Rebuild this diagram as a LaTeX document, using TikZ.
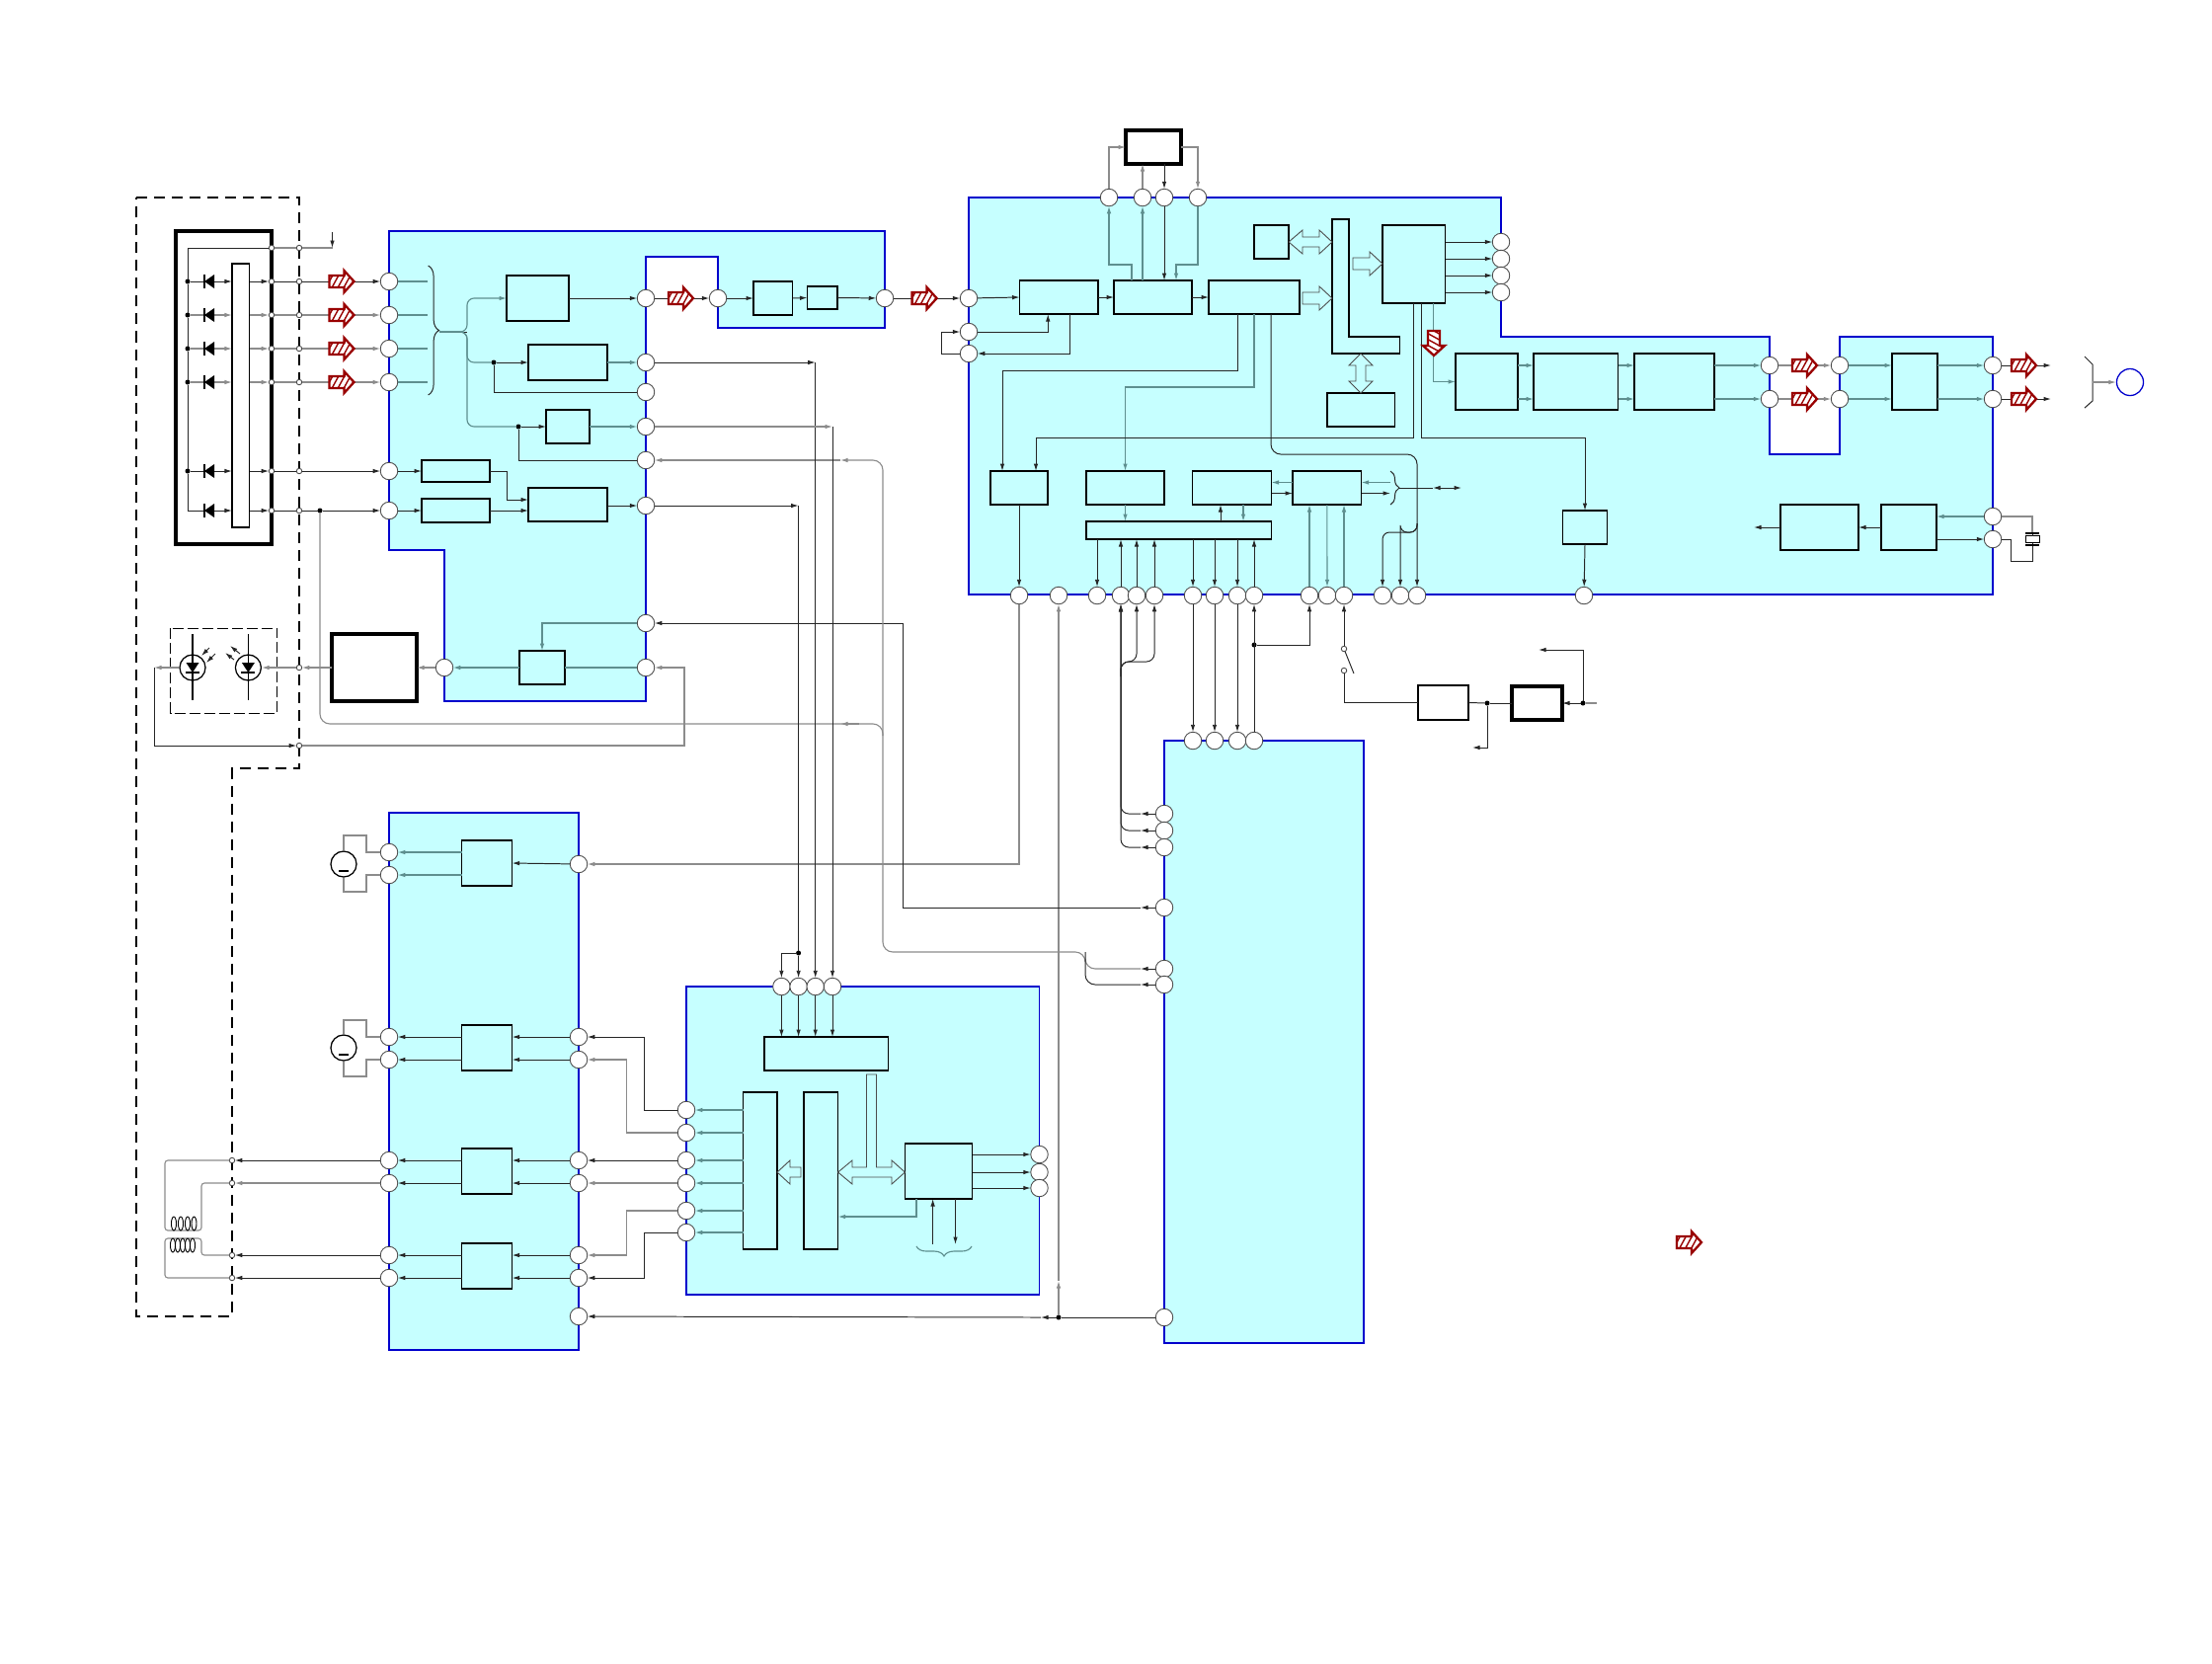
\documentclass[tikz,border=0pt]{standalone}
\usepackage{xcolor}
\usetikzlibrary{arrows.meta,decorations.pathreplacing}
\definecolor{panelcyan}{HTML}{C6FFFF}
\definecolor{panelblue}{HTML}{0000CC}
\definecolor{hatchred}{HTML}{990000}
\definecolor{wireteal}{HTML}{5E8F8F}
\tikzset{
  >={Latex[length=0.075cm,width=0.045cm]},
  panel/.style={draw=panelblue,fill=panelcyan,line width=0.55pt},
  block/.style={draw,fill=panelcyan,line width=0.36pt,inner sep=0pt,outer sep=0pt},
  whitebox/.style={draw,fill=white,line width=0.95pt,inner sep=0pt,outer sep=0pt},
  port/.style={circle,draw=black!70,fill=white,line width=0.25pt,minimum size=0.175cm,inner sep=0pt,outer sep=0pt},
  opendot/.style={circle,draw=black!70,fill=white,line width=0.25pt,minimum size=0.055cm,inner sep=0pt,outer sep=0pt},
  soliddot/.style={circle,fill=black,minimum size=0.05cm,inner sep=0pt,outer sep=0pt},
  wire/.style={draw=black!85,line width=0.28pt},
  wiregray/.style={draw=black!45,line width=0.32pt},
  wirepanel/.style={draw=wireteal,line width=0.32pt},
  busarrow/.style={draw=black!70,fill=panelcyan,line width=0.25pt},
  hatcharrow/.pic={
    \begin{scope}
    \clip (0,-6) -- (15,-6) -- (15,-11) -- (25,0) -- (15,11) -- (15,6) -- (0,6) -- cycle;
    \fill[white] (-1,-12) rectangle (26,12);
    \foreach \k in {-6,0,...,30} \draw[hatchred,line width=0.4pt] (\k-6,11) -- (\k+6,-11);
    \end{scope}
    \draw[hatchred,line width=0.65pt] (0,-6) -- (15,-6) -- (15,-11) -- (25,0) -- (15,11) -- (15,6) -- (0,6) -- cycle;
  }
}
\begin{document}
\begin{tikzpicture}[x=0.01cm,y=-0.01cm]
\useasboundingbox (0,0) rectangle (2240,1684);
% Panels
\draw[panel] (394,234) -- (896,234) -- (896,332) -- (727,332) -- (727,260) -- (654,260) -- (654,710) -- (450,710) -- (450,557) -- (394,557) -- cycle;
\draw[panel] (981,200) -- (1520,200) -- (1520,341) -- (1792,341) -- (1792,460) -- (1863,460) -- (1863,341) -- (2018,341) -- (2018,602) -- (981,602) -- cycle;
\draw[panel,line width=0.4pt] (1179,750) rectangle (1381,1360);
\draw[panel,line width=0.35pt] (394,823) rectangle (586,1367);
\draw[panel,line width=0.45pt] (695,999) rectangle (1052.5,1311);
% Outer dashed frame
\draw[line width=0.5pt,dash pattern=on 0.11cm off 0.07cm] (138,200) -- (303,200) -- (303,778) -- (235,778) -- (235,1333) -- (138,1333) -- cycle;
\draw[line width=0.26pt,dash pattern=on 0.11cm off 0.04cm] (172.5,636) rectangle (280.7,722);
\draw[line width=0.95pt] (178,234) rectangle (275,551);
% Blocks
\foreach \n/\xa/\ya/\xb/\yb in {
    b1/513/279/576/325, b2/535/349/615/385, b3/553/415/597/449,
    b4/427/466/496/488, b5/427/505/496/529, b6/535/494/615/528,
    b7/526/659/572/693, g1/763/285/802.5/319, g2/817.5/290/848/313,
    c1/1032.5/284/1112/318, c2/1128/284/1207/318, c3/1224/284/1316/318,
    c4/1270/228/1305/262, c5/1400/228/1463.5/307, c6/1344/398/1412.5/432,
    c7/1474/358/1537/415, c8/1553/358/1638.6/415, c9/1655/358/1736/415,
    c10/1916/358/1962/415, c11/1803/511/1882/557, c12/1905/511/1961/557,
    d1/1003/477/1061/511, d2/1100/477/1179/511, d3/1207.5/477/1287.5/511,
    d4/1309/477/1378.6/511, d5/1582.5/517/1627.5/551, d6/1100/528/1287.5/546,
    m1/467.5/851/518.6/897, m2/467.5/1038/518.6/1084,
    m3/467.5/1163/518.6/1209, m4/467.5/1259/518.6/1305,
    f1/774/1050/899.6/1084, f2/752.5/1106/787/1265,
    f3/814/1106/848.6/1265, f4/916.4/1158/984.6/1214} {
    \node[block,minimum width={(\xb-\xa)*0.01cm},minimum height={(\yb-\ya)*0.01cm}] (\n) at ({(\xa+\xb)/2},{(\ya+\yb)/2}) {};
}
\foreach \n/\xa/\ya/\xb/\yb in {
    b8/336/642/422/710, tbox/1140/132/1196/166, e2/1531/695/1582/729} {
    \node[whitebox,minimum width={(\xb-\xa)*0.01cm},minimum height={(\yb-\ya)*0.01cm}] (\n) at ({(\xa+\xb)/2},{(\ya+\yb)/2}) {};
}
\node[whitebox,line width=0.42pt,minimum width=0.51cm,minimum height=0.35cm] (e1) at (1461.5,711.5) {};
\node[whitebox,line width=0.36pt,minimum width=0.175cm,minimum height=2.67cm] (strip) at (243.75,400.5) {};
\node[whitebox,line width=0.3pt,minimum width=0.14cm,minimum height=0.07cm] (xtal) at (2058,546) {};
% L shaped bus
\draw[block] (1349,222) -- (1366,222) -- (1366,341) -- (1417.5,341) -- (1417.5,358) -- (1349,358) -- cycle;
% Ports
\foreach \n/\x/\y in {
    pa1/394/285, pa2/394/319, pa3/394/353, pa4/394/387, pa5/394/477, pa6/394/517,
    ar1/654/302, ar2/654/367, ar3/654/397, ar4/654/432, ar5/654/466, ar6/654/512, ar7/654/631, ar8/654/676,
    an/727/302, ao/896/302, ab/450/676,
    bl1/981/302, bl2/981/336, bl3/981/358,
    bt1/1123/200, bt2/1157/200, bt3/1179/200, bt4/1213/200,
    br1/1520/245, br2/1520/262, br3/1520/279, br4/1520/296,
    bs1/1792/370, bs2/1792/404, bn1/1863/370, bn2/1863/404,
    bo1/2018/370, bo2/2018/404, bx1/2018/523, bx2/2018/546,
    bb1/1032/603, bb2/1072/603, bb3/1111/603, bb4/1135/603, bb5/1151/603, bb6/1169/603,
    bb7/1208/603, bb8/1230/603, bb9/1253/603, bb10/1270/603, bb11/1326/603, bb12/1344/603,
    bb13/1361/603, bb14/1400/603, bb15/1418/603, bb16/1435/603, bb17/1604/603,
    dt1/1208/750, dt2/1230/750, dt3/1253/750, dt4/1270/750,
    dl1/1179/824, dl2/1179/841, dl3/1179/858, dl4/1179/919, dl5/1179/981, dl6/1179/997, dl7/1179/1334,
    el1/394/863, el2/394/886, el3/394/1050, el4/394/1073, el5/394/1175, el6/394/1198, el7/394/1271, el8/394/1294,
    er1/586/875, er3/586/1050, er4/586/1073, er5/586/1175, er6/586/1198, er7/586/1271, er8/586/1294, er9/586/1333,
    ft1/791.4/999, ft2/808.6/999, ft3/825.7/999, ft4/843/999,
    fl1/695/1124, fl2/695/1147, fl3/695/1175, fl4/695/1198, fl5/695/1226, fl6/695/1248,
    fr1/1052.5/1169, fr2/1052.5/1187, fr3/1052.5/1203} {
    \node[port] (\n) at (\x,\y) {};
}
% Small dots
\foreach \n/\x/\y in {
    sa0/275/251, sa1/275/285, sa2/275/319, sa3/275/353, sa4/275/387, sa5/275/477, sa6/275/517,
    sb0/303/251, sb1/303/285, sb2/303/319, sb3/303/353, sb4/303/387, sb5/303/477, sb6/303/517,
    sb7/303/755, sb8/303/676, cd1/235/1175, cd2/235/1198, cd3/235/1271, cd4/235/1294,
    sw1/1361/657, sw2/1361/679} {
    \node[opendot] (\n) at (\x,\y) {};
}
\foreach \n/\x/\y in {
    rail1/190/285, rail2/190/319, rail3/190/353, rail4/190/387, rail5/190/477,
    da/500/367, db/525/432, dp/324/517, fd/808.6/965, dj/1072/1334, jd/1270/653,
    je/1506/712, jf/1603/712} {
    \node[soliddot] (\n) at (\x,\y) {};
}
\coordinate (rail6) at (190,517);
% Optical pair and motors
\node[circle,draw,line width=0.36pt,minimum size=0.26cm,inner sep=0pt] (led1) at (195,676) {};
\node[circle,draw,line width=0.36pt,minimum size=0.26cm,inner sep=0pt] (led2) at (251.4,676) {};
\node[circle,draw,line width=0.36pt,minimum size=0.26cm,inner sep=0pt] (mot1) at (348,875) {};
\node[circle,draw,line width=0.36pt,minimum size=0.26cm,inner sep=0pt] (mot2) at (348,1061) {};
\node[circle,draw=panelblue,line width=0.36pt,minimum size=0.27cm,inner sep=0pt] (jack) at (2157,387) {};
% Free ends
\coordinate (tp) at (336.5,251);
\coordinate (tpa) at (336.5,235);
\coordinate (bl) at (433,336);
\coordinate (bc) at (445,336);
\coordinate (br) at (473,336);
\coordinate (lc) at (156,676);
\coordinate (lk) at (693,676);
\coordinate (ta) at (851,466);
\coordinate (tb) at (894,964);
\coordinate (tc) at (1099,964);
\coordinate (tj) at (894,733);
\coordinate (tm) at (851,733);
\coordinate (tn) at (870,733);
\coordinate (tk) at (914,631);
\coordinate (dmid) at (1155,840);
\coordinate (ja) at (1072,1297);
\coordinate (jb) at (1054,1334);
\coordinate (kb) at (1135,685);
\coordinate (kc) at (1143,670);
\coordinate (dbr) at (1408,494);
\coordinate (dbt) at (1417,494);
\coordinate (dbm) at (1451,494);
\coordinate (dbe) at (1480,494);
\coordinate (bj) at (1435,530);
\coordinate (bk) at (1418,539);
\coordinate (bm) at (1400,539);
\coordinate (brk) at (2119,387);
\coordinate (ou1) at (2077,370);
\coordinate (ou2) at (2077,404);
\coordinate (cl) at (1776,534);
\coordinate (xa) at (2058,540);
\coordinate (xb) at (2058,552);
\coordinate (xc) at (2036,568);
\coordinate (jl) at (1491,757);
\coordinate (jg) at (1617,712);
\coordinate (jh) at (1558,658);
\coordinate (lv) at (1371,682);
\coordinate (ca1) at (167,1246);
\coordinate (ca2) at (204,1246);
\coordinate (ca3) at (204,1254);
\coordinate (ca4) at (167,1254);
\coordinate (fb0) at (928,1214);
\coordinate (fb3) at (928,1232);
\coordinate (fb1) at (944.6,1260);
\coordinate (fb2) at (967.5,1260);
\coordinate (mk1) at (371,846);
\coordinate (mk2) at (371,903);
\coordinate (mk3) at (371,1033);
\coordinate (mk4) at (371,1090);
% Sensor rows
\draw[wire] (sa0) -| (rail1);
\draw[wire] (rail1) -- (rail2);
\draw[wire] (rail2) -- (rail3);
\draw[wire] (rail3) -- (rail4);
\draw[wire] (rail4) -- (rail5);
\draw[wire] (rail5) -- (rail6);
\draw[wiregray] (sa0) -- (sb0);
\draw[wiregray] (sb0) -- (tp);
\draw[wire,->] (tpa) -- (tp);
\foreach \i in {1,5,6} {
    \draw[wire,->] (rail\i) -- (strip.west |- rail\i);
    \draw[wire,->] (strip.east |- rail\i) -- (sa\i);
    \draw[wire] (sa\i) -- (sb\i);
}
\foreach \i in {2,3,4} {
    \draw[wiregray,->] (rail\i) -- (strip.west |- rail\i);
    \draw[wiregray,->] (strip.east |- rail\i) -- (sa\i);
    \draw[wiregray] (sa\i) -- (sb\i);
    \draw[wiregray,->] (sb\i) -- (pa\i);
}
\draw[wire,->] (sb1) -- (pa1);
\draw[wire,->] (sb5) -- (pa5);
\draw[wire] (sb6) -- (dp);
\draw[wire,->] (dp) -- (pa6);
\foreach \y in {285,319,353,387,477,517} {
    \fill (207,\y) -- (217,\y-7) -- (217,\y+7) -- cycle;
    \draw[line width=0.36pt] (207,\y-7) -- (207,\y+7);
}
% First panel
\foreach \p in {pa1,pa2,pa3,pa4} \draw[wirepanel] (\p) -- (\p -| bl);
\draw[wire,decorate,decoration={brace,amplitude=0.11cm}] (433.6,269) -- (433.6,400);
\draw[wire] (bc) -- (br);
\draw[wirepanel,->,rounded corners=0.07cm] (bc) -- (br) |- (b1.west);
\draw[wirepanel,rounded corners=0.07cm] (bc) -- (br) |- (da);
\draw[wirepanel,rounded corners=0.07cm] (bc) -- (br) |- (db);
\draw[wire,->] (da) -- (da -| b2.west);
\draw[wire,->] (db) -- (b3.west);
\draw[wire] (da) |- (ar3);
\draw[wire] (db) |- (ar5);
\draw[wire,->] (b1.east |- ar1) -- (ar1);
\draw[wirepanel,->] (b2.east |- ar2) -- (ar2);
\draw[wirepanel,->] (b3.east) -- (ar4);
\draw[wire,->] (pa5) -- (b4.west);
\draw[wire,->] (pa6) -- (b5.west);
\draw[wire,->] (b4.east) -- ++(17,0) |- ([yshift=0.05cm]b6.west);
\draw[wire,->] (b5.east) -- (b5.east -| b6.west);
\draw[wire,->] (b6.east |- ar6) -- (ar6);
\draw[wirepanel,->] (ar7) -| (b7.north);
\draw[wirepanel] (ar8) -- (b7.east);
\draw[wirepanel,->] (b7.west) -- (ab);
\draw[wiregray,->] (ab) -- (b8.east);
\draw[wiregray,->] (b8.west) -- (sb8);
\draw[wiregray,->] (sb8) -- (led2);
\draw[wiregray,->] (led1) -- (lc);
\draw[wire,->] (lc) |- (sb7);
\draw[wiregray,->] (sb7) -| (lk) -- (ar8);
% Notch and link to second panel
\draw[wire,->] (ar1) -- (an);
\draw[wire,->] (an) -- (g1.west);
\draw[wire,->] (g1.east) -- (g2.west);
\draw[wire,->] (g2.east) -- (ao);
\draw[wire,->] (ao) -- (bl1);
\draw[wire,->] (bl1) -- (c1.west);
\draw[wire,->] (c1.east) -- (c2.west);
\draw[wire,->] (c2.east) -- (c3.west);
\draw[wire,->] (bl3) -- ++(-28,0) |- (bl2);
\draw[wire,->] (bl2) -| ([xshift=-0.11cm]c1.south);
\draw[wire,->] ([xshift=0.115cm]c1.south) |- (bl3);
% Memory on top
\draw[wirepanel,->] ([xshift=-0.215cm]c2.north) -- ++(0,-16) -| (bt1);
\draw[wirepanel,->] (bt2 |- c2.north) -- (bt2);
\draw[wire,->] (bt3) -- (bt3 |- c2.north);
\draw[wirepanel,->] (bt4) -- ++(0,68) -| ([xshift=0.235cm]c2.north);
\draw[wiregray,->] (bt1) |- (tbox.west);
\draw[wiregray,->] (bt2) -- (bt2 |- tbox.south);
\draw[wire,->] (bt3 |- tbox.south) -- (bt3);
\draw[wiregray,->] (tbox.east) -| (bt4);
% Hollow bus arrows
\draw[busarrow] (1305,245) -- (1319,233) -- (1319,240) -- (1336,240) -- (1336,233) -- (1349,245) -- (1336,257) -- (1336,250) -- (1319,250) -- (1319,257) -- cycle;
\draw[busarrow] (1319,296) -- (1336,296) -- (1336,290) -- (1349,302) -- (1336,314) -- (1336,308) -- (1319,308) -- cycle;
\draw[busarrow] (1370,261) -- (1387,261) -- (1387,255) -- (1400,267) -- (1387,279) -- (1387,273) -- (1370,273) -- cycle;
\draw[busarrow] (1378,358) -- (1366,370) -- (1373,370) -- (1373,386) -- (1366,386) -- (1378,398) -- (1390,386) -- (1383,386) -- (1383,370) -- (1390,370) -- cycle;
\draw[busarrow] (787,1187) -- (800,1175) -- (800,1182) -- (811,1182) -- (811,1192) -- (800,1192) -- (800,1199) -- cycle;
\draw[busarrow] (848.6,1187) -- (863,1175) -- (863,1182) -- (877.5,1182) -- (877.5,1088) -- (887.5,1088) -- (887.5,1182) -- (903,1182) -- (903,1175) -- (916.4,1187) -- (903,1199) -- (903,1192) -- (863,1192) -- (863,1199) -- cycle;
% Second panel
\foreach \p in {br1,br2,br3,br4} \draw[wire,->] (c5.east |- \p) -- (\p);
\draw[wire,->] ([xshift=-0.165cm]c3.south) -- ++(0,57) -| ([xshift=-0.17cm]d1.north);
\draw[wirepanel,->] (c3.south) -- ++(0,74) -| (d2.north);
\draw[wire,->,rounded corners=0.1cm] ([xshift=0.17cm]c3.south) -- ++(0,142) -| (bb16);
\draw[wire,->] (c5.south) -- ++(0,136) -| ([xshift=0.17cm]d1.north);
\draw[wire,->] ([xshift=0.08cm]c5.south) -- ++(0,136) -| (d5.north);
\draw[wirepanel,->] ([xshift=0.2cm]c5.south) |- (c7.west);
\draw[wire,rounded corners=0.07cm,->] (bj) |- (bk) -| (bb15);
\draw[wire,rounded corners=0.07cm,->] (bj) |- (bm) -- (bb14);
\foreach \p in {bs1,bs2} {
    \draw[wirepanel,->] (c7.east |- \p) -- (c8.west |- \p);
    \draw[wirepanel,->] (c8.east |- \p) -- (c9.west |- \p);
    \draw[wirepanel,->] (c9.east |- \p) -- (\p);
}
\draw[wiregray,->] (bs1) -- (bn1);
\draw[wiregray,->] (bs2) -- (bn2);
\draw[wirepanel,->] (bn1) -- (c10.west |- bn1);
\draw[wirepanel,->] (bn2) -- (c10.west |- bn2);
\draw[wirepanel,->] (c10.east |- bo1) -- (bo1);
\draw[wirepanel,->] (c10.east |- bo2) -- (bo2);
\draw[wire,->] (bo1) -- (ou1);
\draw[wire,->] (bo2) -- (ou2);
\draw[wire] (2111,361) -- (2119,369) -- (2119,406) -- (2111,413);
\draw[wiregray,->] (brk) -- (jack);
\draw[wirepanel,->] (bx1) -- (c12.east |- bx1);
\draw[wire,->] (c12.east |- bx2) -- (bx2);
\draw[wire,->] (c12.west) -- (c11.east);
\draw[wire,->] (c11.west) -- (cl);
\draw[wiregray] (bx1) -| (xa);
\draw[wire] (xa) -- (xtal);
\draw[wire] (xb) -- (xtal);
\draw[wire] (xb) |- (xc) |- (bx2);
\draw[line width=0.3pt] (2051,540) -- (2065,540);
\draw[line width=0.3pt] (2051,552) -- (2065,552);
% Lower rows of the second panel
\draw[wire,->] (d1.south) -- (bb1);
\draw[wirepanel,->] (d2.south) -- (d2.south |- d6.north);
\draw[wire,<-] ([xshift=-0.115cm]d3.south) -- ++(0,17);
\draw[wirepanel,->] ([xshift=0.115cm]d3.south) -- ++(0,17);
\foreach \p in {bb3,bb7,bb8,bb9} \draw[wire,->] (\p |- d6.south) -- (\p);
\foreach \p in {bb4,bb5,bb6,bb10} \draw[wire,->] (\p) -- (\p |- d6.south);
\draw[wirepanel,->] ([yshift=0.055cm]d4.west) -- ([yshift=0.055cm]d3.east);
\draw[wire,->] ([yshift=-0.055cm]d3.east) -- ([yshift=-0.055cm]d4.west);
\draw[wirepanel,->] ([yshift=0.055cm]dbr) -- ([yshift=0.055cm]d4.east);
\draw[wire,->] ([yshift=-0.055cm]d4.east) -- ([yshift=-0.055cm]dbr);
\draw[wire,decorate,decoration={brace,amplitude=0.09cm}] (1408,477) -- (1408,511);
\draw[wire] (dbt) -- (dbm);
\draw[wire,<->] (dbm) -- (dbe);
\draw[wirepanel,->] (bb11) -- (bb11 |- d4.south);
\draw[wirepanel,->] (d4.south) -- (bb12);
\draw[wirepanel,->] (bb13) -- (bb13 |- d4.south);
\draw[wire,->] (d5.south) -- (bb17);
% Links between the panels
\draw[wiregray,->] (bb1) |- (er1);
\draw[wiregray,->] (dj) -- (ja);
\draw[wiregray,->] (ja) -- (bb2);
\draw[wire] (dl7) -- (dj);
\draw[wire,->] (dj) -- (jb);
\draw[wire,->] (jb) -- (er9);
\foreach \p in {dl1,dl2,dl3,dl4,dl5,dl6} \draw[wire,->] (\p) -- (\p -| dmid);
\foreach \p in {dl1,dl2,dl3} \draw[wire,->,rounded corners=0.08cm] (\p -| dmid) -| (bb4);
\draw[wire,->,rounded corners=0.08cm] (kb) -- (kb |- kc) -| (bb5);
\draw[wire,->,rounded corners=0.08cm] (kb) -- (kb |- kc) -| (bb6);
\draw[wire,->] (dt4) -- (bb10);
\draw[wire,->] (bb7) -- (dt1);
\draw[wire,->] (bb8) -- (dt2);
\draw[wire,->] (bb9) -- (dt3);
\draw[wire,->] (jd) -| (bb11);
\draw[wire,->] (sw1) -- (bb13);
\draw[wire] (sw1) -- (lv);
\draw[wire] (sw2) |- (e1.west);
\draw[wire] (e1.east) -- (je);
\draw[wire] (je) -- (e2.west);
\draw[wire,->] (je) |- (jl);
\draw[wire,->] (jf) -- (e2.east);
\draw[wiregray] (jg) -- (jf);
\draw[wire,->] (jf) |- (jh);
\draw[wire,->] (dl4 -| dmid) -| (tk) -- (ar7);
\draw[wiregray,<-,rounded corners=0.1cm] (ta) -| (tb) -- (tc) |- (dl5 -| dmid);
\draw[wire,rounded corners=0.1cm] (tc) |- (dl6 -| dmid);
\draw[wiregray,->] (ta) -- (ar5);
\draw[wiregray,rounded corners=0.1cm] (dp) |- (tj) -- ++(0,12);
\draw[wiregray,->] (tn) -- (tm);
\draw[wire,->] (ar2) -- (ar2 -| ft3);
\draw[wire,->] (ar2 -| ft3) -- (ft3);
\draw[wiregray,->] (ar4) -- (ar4 -| ft4);
\draw[wire,->] (ar4 -| ft4) -- (ft4);
\draw[wire,->] (ar6) -- (ar6 -| fd);
\draw[wire] (ar6 -| fd) -- (fd);
\draw[wire,->] (fd) -- (ft2);
\draw[wire,->] (fd) -| (ft1);
% Drivers
\draw[wire,->] (er1) -- (m1.east);
\foreach \m/\i/\j in {m2/3/4,m3/5/6,m4/7/8} {
    \draw[wire,->] (er\i) -- (\m.east |- er\i);
    \draw[wire,->] (er\j) -- (\m.east |- er\j);
    \draw[wire,->] (\m.west |- er\i) -- (el\i);
    \draw[wire,->] (\m.west |- er\j) -- (el\j);
}
\draw[wirepanel,->] (m1.west |- el1) -- (el1);
\draw[wirepanel,->] (m1.west |- el2) -- (el2);
\foreach \n/\a/\b/\c in {mot1/mk1/el1/north, mot1/mk2/el2/south, mot2/mk3/el3/north, mot2/mk4/el4/south} {
    \draw[wiregray] (\n.\c) |- (\a) |- (\b);
}
\draw[line width=0.36pt] ([shift={(-5,7)}]mot1.center) -- ++(10,0);
\draw[line width=0.36pt] ([shift={(-5,7)}]mot2.center) -- ++(10,0);
\draw[wire,->] (el5) -- (cd1);
\draw[wiregray,->] (el6) -- (cd2);
\draw[wire,->] (el7) -- (cd3);
\draw[wire,->] (el8) -- (cd4);
\draw[wiregray,rounded corners=0.03cm] (cd1) -| (ca1) -- (ca2) |- (cd2);
\draw[wiregray,rounded corners=0.03cm] (cd3) -| (ca3) -- (ca4) |- (cd4);
\foreach \x in {176,183,190,196.5} \draw[line width=0.26pt] (\x,1239) ellipse [x radius=2.5,y radius=7];
\foreach \x in {175,180,185,190,195} \draw[line width=0.26pt] (\x,1261) ellipse [x radius=2.5,y radius=7];
% Optical pair
\draw[line width=0.32pt] (195,642) -- (195,709);
\draw[line width=0.32pt] (251.4,642) -- (251.4,709);
\foreach \x in {195,251.4} {
    \fill (\x-6.5,671) -- (\x+6.5,671) -- (\x,681) -- cycle;
    \draw[line width=0.36pt] (\x-7,681) -- (\x+7,681);
}
\draw[wire,->] (212,656) -- (204,664);
\draw[wire,->] (218,662) -- (209,671);
\draw[wire,->] (243,662) -- (233,654);
\draw[wire,->] (237,668) -- (228,661);
% Third panel
\foreach \p in {ft1,ft2,ft3,ft4} \draw[wire,->] (\p) -- (\p |- f1.north);
\foreach \p in {fl1,fl2,fl3,fl4,fl5,fl6} \draw[wirepanel,->] (f2.west |- \p) -- (\p);
\foreach \p in {fr1,fr2,fr3} \draw[wire,->] (f4.east |- \p) -- (\p);
\draw[wire,->] (fl1) -- ++(-42.5,0) |- (er3);
\draw[wiregray,->] (fl2) -- ++(-60.4,0) |- (er4);
\draw[wire,->] (fl3) -- (er5);
\draw[wiregray,->] (fl4) -- (er6);
\draw[wiregray,->] (fl5) -- ++(-60.4,0) |- (er7);
\draw[wire,->] (fl6) -- ++(-42.5,0) |- (er8);
\draw[wirepanel,->] (fb0) |- (f3.east |- fb3);
\draw[wire,->] (fb1) -- (fb1 |- f4.south);
\draw[wire,->] (fb2 |- f4.south) -- (fb2);
\draw[wirepanel,decorate,decoration={brace,amplitude=0.1cm}] (984,1262) -- (928,1262);
% Hatched arrows
\foreach \x/\y in {333.5/285,333.5/319,333.5/353,333.5/387,677/302,923.6/302,
    1815/370,1815/404,2037/370,2037/404,1698/1258} {
    \pic at (\x,\y) {hatcharrow};
}
\pic[rotate=-90] at (1452,335) {hatcharrow};
\end{tikzpicture}
\end{document}
